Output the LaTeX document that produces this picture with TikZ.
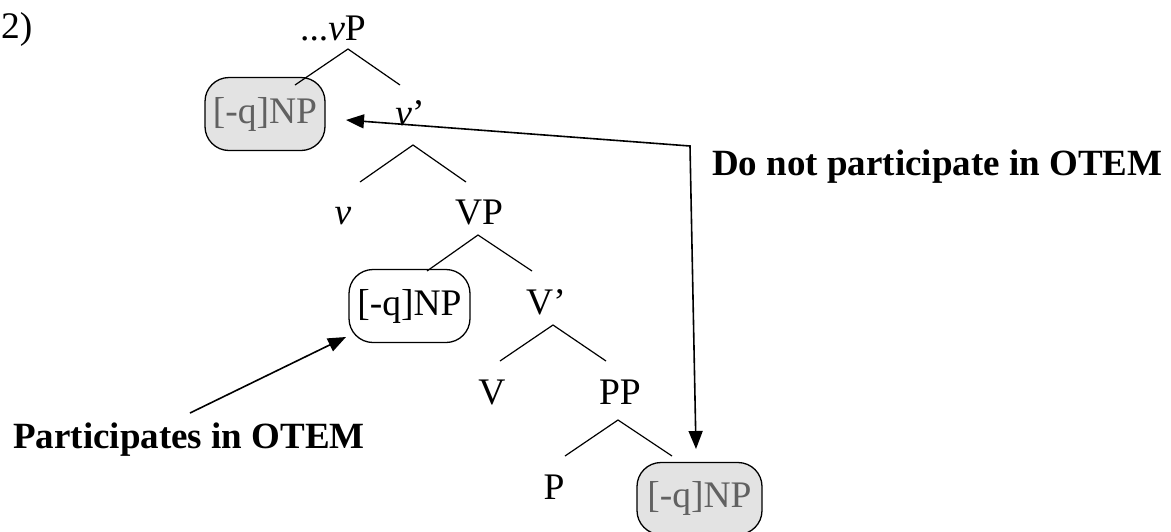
\documentclass[tikz,border=0pt]{standalone}
\usepackage{fontspec}
\setmainfont{Liberation Serif}
\usetikzlibrary{arrows.meta}
\begin{document}
\begin{tikzpicture}[x=1pt,y=-1pt,
  lab/.style={font=\fontsize{37.5}{42}\selectfont, inner sep=0pt, anchor=base},
  boldlab/.style={font=\fontsize{37}{44}\selectfont\bfseries, inner sep=0pt, anchor=base west},
  npbox/.style={draw, line width=1.3pt, rounded corners=24pt, inner sep=0pt,
     font=\fontsize{37.5}{42}\selectfont},
  greybox/.style={npbox, fill=black!11, text=black!62},
  branch/.style={line width=1.2pt},
  pointer/.style={line width=1.6pt, -{Triangle[length=18pt,width=14pt]}},
  pointer2/.style={line width=1.6pt, {Triangle[length=18pt,width=14pt]}-{Triangle[length=18pt,width=14pt]}}
]
\useasboundingbox (0,0) rectangle (1171,531);

% labels
\node[lab, anchor=base west] (num) at (1,38) {2)};
\node[lab] (vP) at (333,40) {...\textit{v}P};
\node[lab] (vbar) at (410,125) {\textit{v}’};
\node[lab] (v) at (343,224) {\textit{v}};
\node[lab] (VP) at (479,224) {VP};
\node[lab] (Vbar) at (546,314) {V’};
\node[lab] (V) at (492,404) {V};
\node[lab] (PP) at (620,404) {PP};
\node[lab] (P) at (554,499) {P};

% boxes
\node[greybox, minimum width=120pt, minimum height=73pt] (np1) at (265,114) {[-q]NP};
\node[npbox, minimum width=121pt, minimum height=73pt] (np2) at (409.5,306) {[-q]NP};
\node[greybox, minimum width=125pt, minimum height=72pt] (np3) at (699.5,498.5) {[-q]NP};

% bold labels
\node[boldlab] (dont) at (712,175) {Do not participate in OTEM};
\node[boldlab] (does) at (13,448) {Participates in OTEM};

% tree branches
\coordinate (a1) at (348,49);  \coordinate (a1l) at (295,85);  \coordinate (a1r) at (400,85);
\coordinate (a2) at (413,145); \coordinate (a2l) at (360,182); \coordinate (a2r) at (466,182);
\coordinate (a3) at (478,235); \coordinate (a3l) at (427,271); \coordinate (a3r) at (532,271);
\coordinate (a4) at (553,325); \coordinate (a4l) at (500,361); \coordinate (a4r) at (606,361);
\coordinate (a5) at (618,420); \coordinate (a5l) at (565,456); \coordinate (a5r) at (672,456);
\foreach \n in {a1,a2,a3,a4,a5} {
  \draw[branch] (\n l) -- (\n) -- (\n r);
}

% arrows
\coordinate (tipA) at (346,120);
\coordinate (bend) at (690,146);
\coordinate (tipB) at (696,449);
\draw[pointer2] (tipA) -- (bend) -- (tipB);

\coordinate (tail) at (190,413);
\coordinate (tipC) at (346,337);
\draw[pointer] (tail) -- (tipC);
\end{tikzpicture}
\end{document}
